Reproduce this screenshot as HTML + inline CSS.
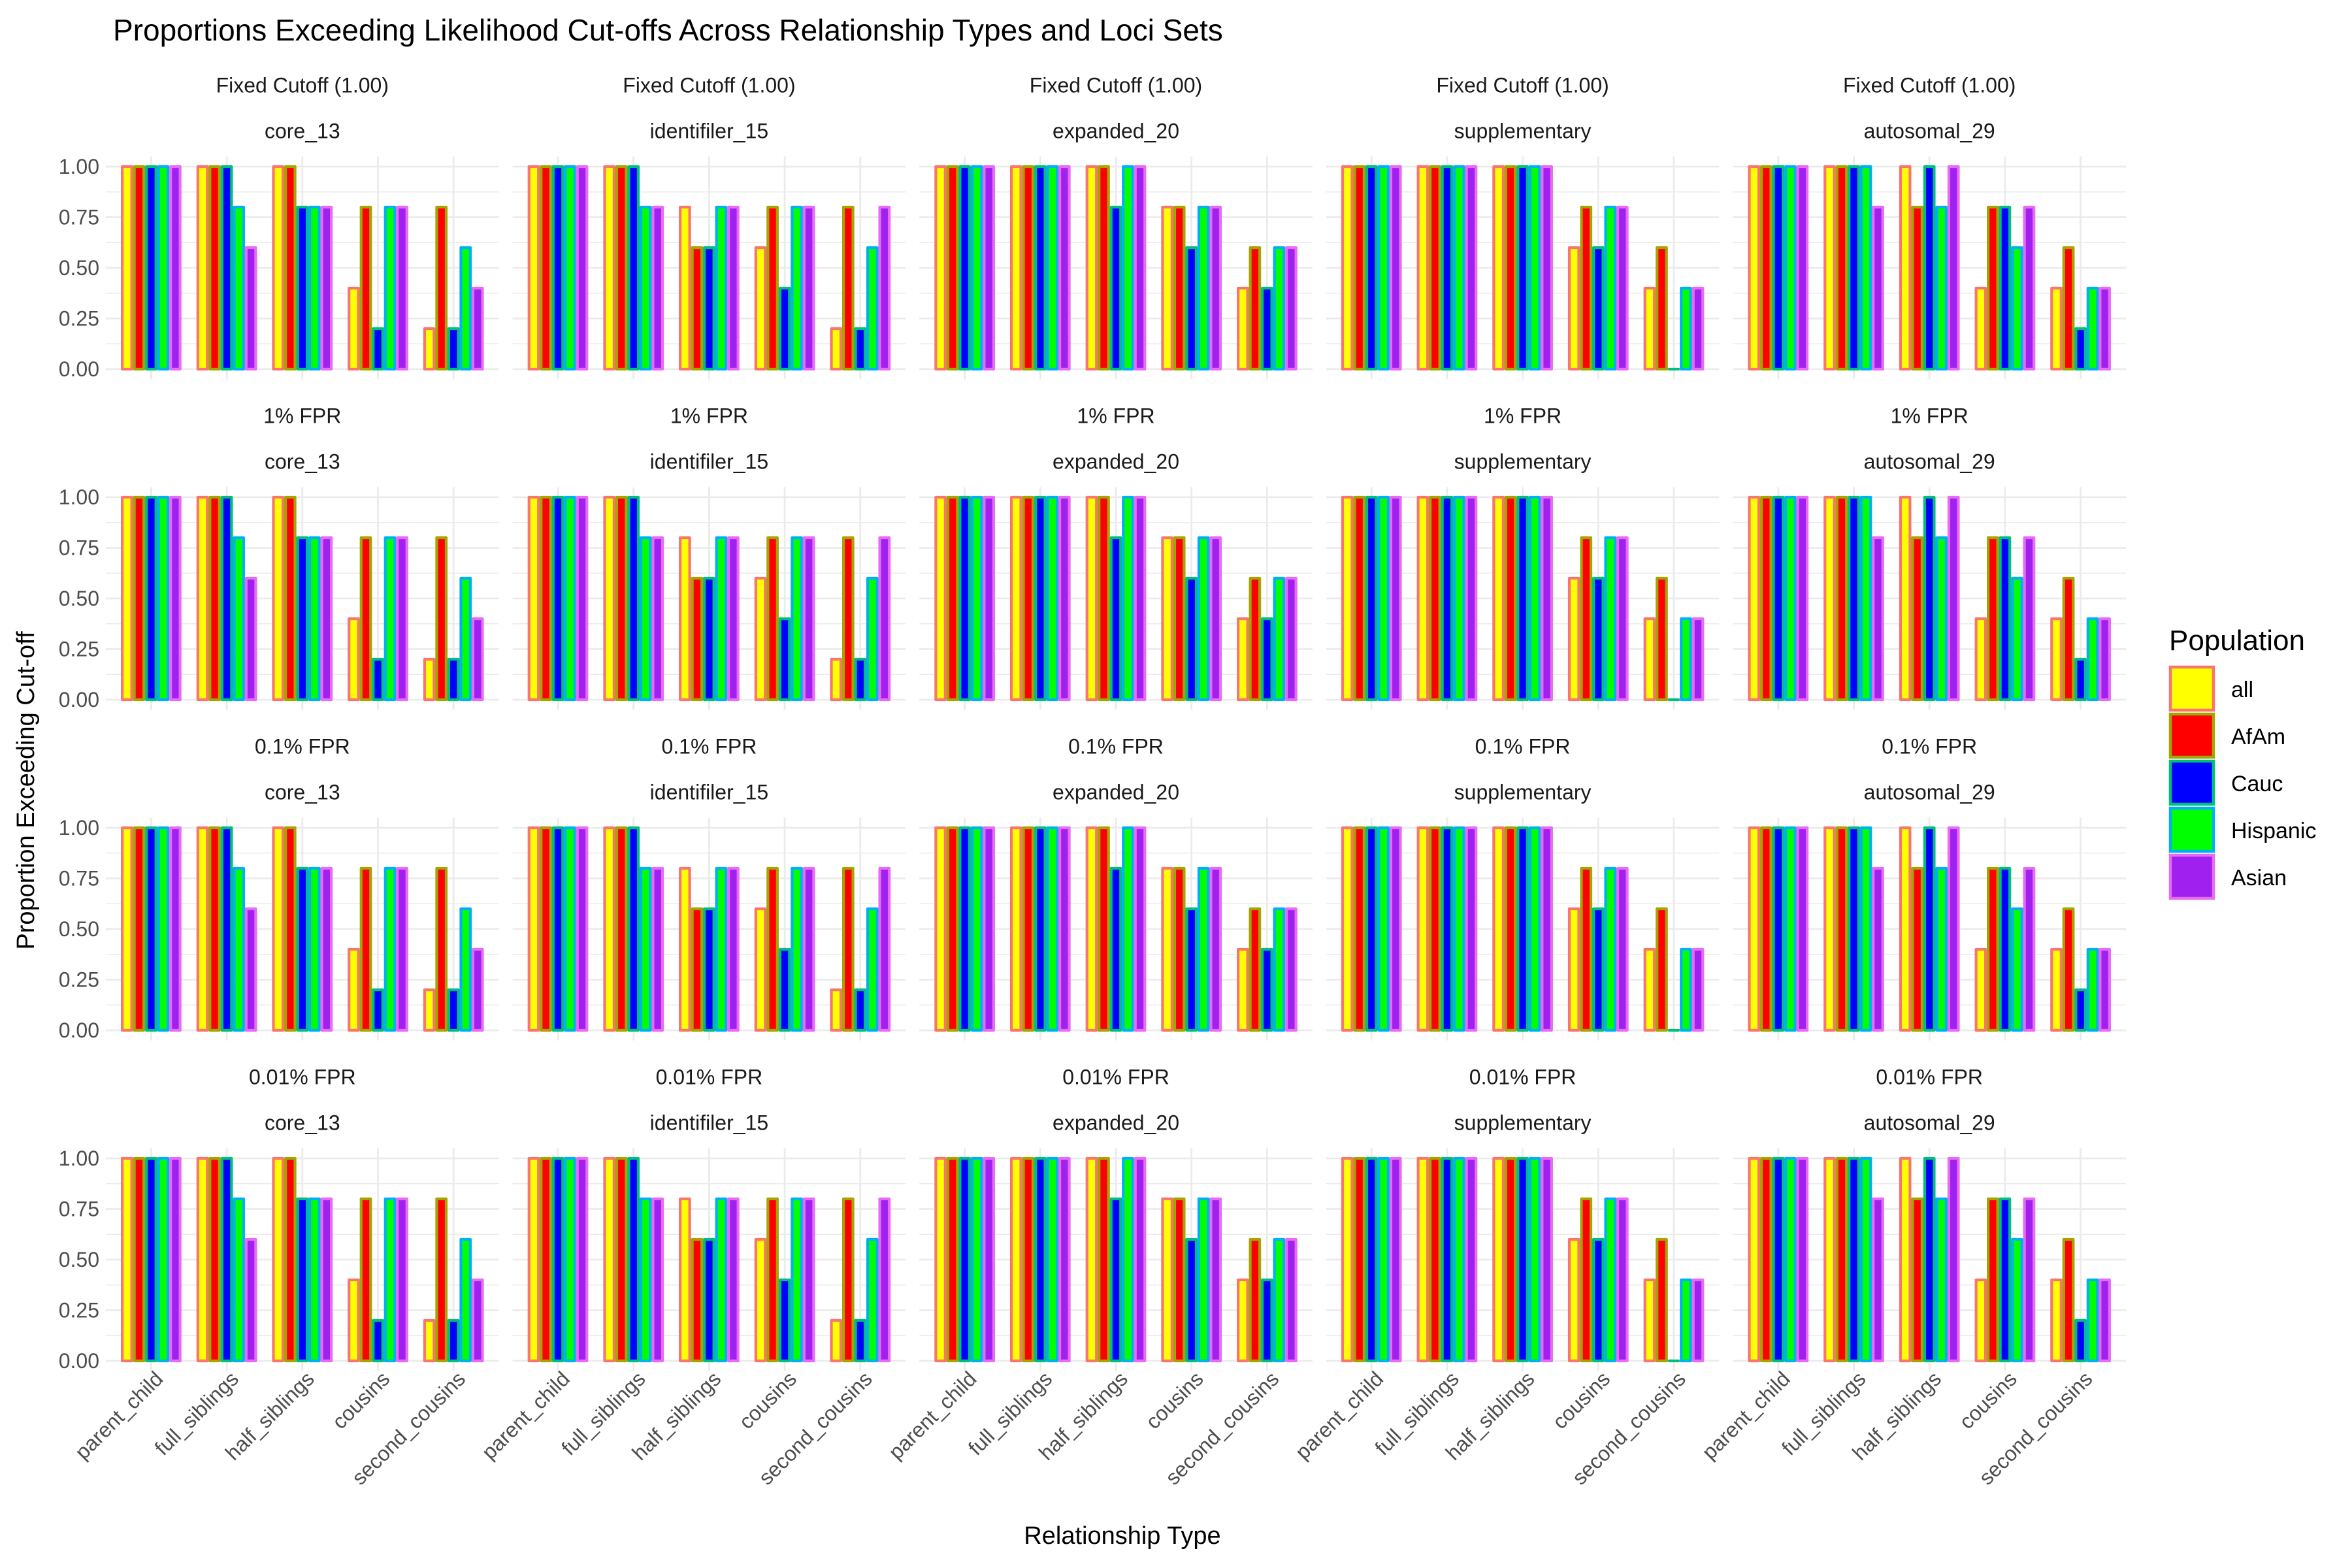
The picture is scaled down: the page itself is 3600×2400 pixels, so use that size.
<!DOCTYPE html>
<html><head><meta charset="utf-8"><style>
html,body{margin:0;padding:0;background:#fff}
svg{display:block;font-family:"Liberation Sans",sans-serif}
</style></head><body>
<svg id="chart" xmlns="http://www.w3.org/2000/svg" width="3600" height="2400" viewBox="0 0 3600 2400">
<rect width="3600" height="2400" fill="#fff"/>
<text x="173" y="62" font-size="46" fill="#000">Proportions Exceeding Likelihood Cut-offs Across Relationship Types and Loci Sets</text>
<text transform="translate(52,1210) rotate(-90)" text-anchor="middle" font-size="38" fill="#000">Proportion Exceeding Cut-off</text>
<text x="1718" y="2363" text-anchor="middle" font-size="38" fill="#000">Relationship Type</text>
<g id="panels"></g>
<g id="legend"></g>
</svg>
<script>
const relationships = ["parent_child","full_siblings","half_siblings","cousins","second_cousins"];
const populations = ["all","AfAm","Cauc","Hispanic","Asian"];
const cutoffRows = ["Fixed Cutoff (1.00)","1% FPR","0.1% FPR","0.01% FPR"];
const lociSets = ["core_13","identifiler_15","expanded_20","supplementary","autosomal_29"];
const yTicks = [0,0.25,0.5,0.75,1];
const yTickLabels = ["0.00","0.25","0.50","0.75","1.00"];
// values[relationship][population]
const core13 = [[1,1,1,1,1],[1,1,1,0.8,0.6],[1,1,0.8,0.8,0.8],[0.4,0.8,0.2,0.8,0.8],[0.2,0.8,0.2,0.6,0.4]];
const identifiler15 = [[1,1,1,1,1],[1,1,1,0.8,0.8],[0.8,0.6,0.6,0.8,0.8],[0.6,0.8,0.4,0.8,0.8],[0.2,0.8,0.2,0.6,0.8]];
const expanded20 = [[1,1,1,1,1],[1,1,1,1,1],[1,1,0.8,1,1],[0.8,0.8,0.6,0.8,0.8],[0.4,0.6,0.4,0.6,0.6]];
const supplementary = [[1,1,1,1,1],[1,1,1,1,1],[1,1,1,1,1],[0.6,0.8,0.6,0.8,0.8],[0.4,0.6,0,0.4,0.4]];
const autosomal29 = [[1,1,1,1,1],[1,1,1,1,0.8],[1,0.8,1,0.8,1],[0.4,0.8,0.8,0.6,0.8],[0.4,0.6,0.2,0.4,0.4]];
const lociValues = [core13,identifiler15,expanded20,supplementary,autosomal29];

const fills = ["#FFFF00","#FF0000","#0000FF","#00FF00","#A020F0"];
const strokes = ["#F8766D","#A3A500","#00BF7D","#00B0F6","#E76BF3"];
const NS="http://www.w3.org/2000/svg";
const panelsG=document.getElementById('panels');
const panelLeft0=162, panelW=601.6, panelGap=21;
const rowTop0=255, rowStep=506, yRange=310;
const catStep=panelW/5.2;
function mk(tag,attrs,parent){const e=document.createElementNS(NS,tag);for(const k in attrs)e.setAttribute(k,attrs[k]);parent.appendChild(e);return e;}
function xScale(p,i){return panelLeft0+p*(panelW+panelGap)+(0.6+i)*catStep;}
function yScale(r,v){return rowTop0+r*rowStep+(1-v)*yRange;}

cutoffRows.forEach((rowLabel,r)=>{
  lociSets.forEach((locus,p)=>{
    const g=mk('g',{},panelsG);
    
    
    const left=panelLeft0+p*(panelW+panelGap), right=left+panelW;
    const top=yScale(r,1.05), bot=yScale(r,-0.05);
    for(let k=0;k<4;k++){const v=0.125+k*0.25;
      mk('line',{x1:left,x2:right,y1:yScale(r,v),y2:yScale(r,v),stroke:'#ebebeb','stroke-width':1.4},g);}
    yTicks.forEach(v=>{mk('line',{x1:left,x2:right,y1:yScale(r,v),y2:yScale(r,v),stroke:'#ebebeb','stroke-width':2.8},g);});
    relationships.forEach((rel,i)=>{mk('line',{x1:xScale(p,i),x2:xScale(p,i),y1:top,y2:bot,stroke:'#ebebeb','stroke-width':2.8},g);});
    const s1=mk('text',{x:(left+right)/2,y:top-98,'text-anchor':'middle','font-size':32,fill:'#1a1a1a'},g);
    s1.textContent=rowLabel;
    
    
    const s2=mk('text',{x:(left+right)/2,y:top-28,'text-anchor':'middle','font-size':32,fill:'#1a1a1a'},g);
    s2.textContent=locus;
    
    
    if(p===0){yTicks.forEach((v,k)=>{const t=mk('text',{x:left-10,y:yScale(r,v)+11,'text-anchor':'end','font-size':32,fill:'#4d4d4d'},g);
      t.textContent=yTickLabels[k];
      
      });}
    const vals=lociValues[p];
    const bw=catStep*0.8/5;
    relationships.forEach((rel,i)=>{
      populations.forEach((pop,j)=>{
        const v=vals[i][j];
        const x=xScale(p,i)-catStep*0.4+j*bw;
        const y0=yScale(r,0), y1=yScale(r,v);
        const b=mk('rect',{x:x+2,y:y1,width:bw-4,height:Math.max(y0-y1,0.01),fill:fills[j],stroke:strokes[j],'stroke-width':4.2,'stroke-linejoin':'round'},g);
        
        
      });
      if(r===cutoffRows.length-1){
        const tx=xScale(p,i)+20, ty=yScale(r,-0.05)+14;
        const t=mk('text',{transform:'translate('+tx+','+ty+') rotate(-45)','text-anchor':'end','font-size':32,fill:'#4d4d4d'},g);
        t.textContent=rel;
        
        
      }
    });
  });
});
const lg=document.getElementById('legend');
const lt=mk('text',{x:3320,y:995,'font-size':44,fill:'#000'},lg);
lt.textContent='Population';


populations.forEach((pop,j)=>{
  const y=1021+j*72;
  const e=mk('g',{},lg);
  
  
  mk('rect',{x:3322,y:y,width:66,height:66,fill:fills[j],stroke:strokes[j],'stroke-width':4.5},e);
  const t=mk('text',{x:3415,y:y+46,'font-size':34,fill:'#000'},e);
  t.textContent=pop;
});
</script>
</body></html>
